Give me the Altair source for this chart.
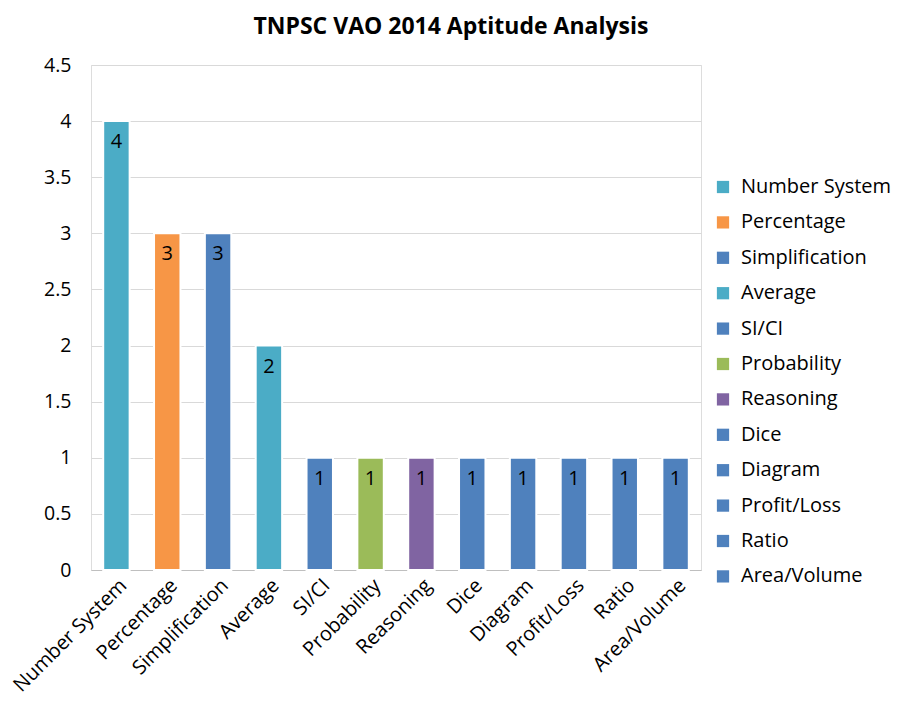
import altair as alt
import pandas as pd

categories = ["Number System", "Percentage", "Simplification", "Average", "SI/CI",
              "Probability", "Reasoning", "Dice", "Diagram", "Profit/Loss", "Ratio", "Area/Volume"]
values = [4, 3, 3, 2, 1, 1, 1, 1, 1, 1, 1, 1]
colors = ["#4BACC6", "#F79646", "#4F81BD", "#4BACC6", "#4F81BD", "#9BBB59",
          "#8064A2", "#4F81BD", "#4F81BD", "#4F81BD", "#4F81BD", "#4F81BD"]
y_ticks = [0, 0.5, 1, 1.5, 2, 2.5, 3, 3.5, 4, 4.5]

df = pd.DataFrame({"topic": categories, "count": values})
FONT = "Open Sans"

x = alt.X("topic:N", sort=categories, title=None,
          scale=alt.Scale(paddingInner=0.48, paddingOuter=0.24),
          axis=alt.Axis(labelAngle=-45, labelFontSize=20, labelFont=FONT, labelColor="#000",
                        ticks=False, domainColor="#BFBFBF", labelPadding=5))
y = alt.Y("count:Q", title=None,
          scale=alt.Scale(domain=[0, 4.5]),
          axis=alt.Axis(values=y_ticks, labelExpr="'' + datum.value", labelFontSize=19.5,
                        labelFont=FONT, labelColor="#000", minExtent=60,
                        ticks=False, domain=False, gridColor="#D9D9D9", labelPadding=20))

bars = alt.Chart(df).mark_bar(stroke="white", strokeWidth=2).encode(
    x=x, y=y,
    color=alt.Color("topic:N", sort=categories,
                    scale=alt.Scale(domain=categories, range=colors),
                    legend=alt.Legend(title=" ", titleFontSize=1, titlePadding=111,
                                      orient="right", offset=12, padding=0,
                                      symbolType="square", symbolSize=150, symbolStrokeWidth=0,
                                      labelFontSize=20, labelFont=FONT, labelColor="#000",
                                      rowPadding=15.4, labelOffset=8))
)

labels = alt.Chart(df).mark_text(baseline="top", dy=11, fontSize=20, font=FONT, color="#000").encode(
    x=alt.X("topic:N", sort=categories), y="count:Q", text="count:Q"
)

chart = (bars + labels).properties(
    width=884, height=688,
    autosize=alt.AutoSizeParams(type="fit", contains="padding"),
    padding={"left": 13, "top": 8, "right": 0, "bottom": 0},
    title=alt.TitleParams("TNPSC VAO 2014 Aptitude Analysis", fontSize=23, font=FONT,
                          fontWeight="bold", color="#000", anchor="middle", frame="bounds", offset=16),
).configure_view(stroke="#D9D9D9", strokeWidth=1).configure(background="white")

chart.save("out.html", embed_options={"renderer": "svg", "actions": False})
